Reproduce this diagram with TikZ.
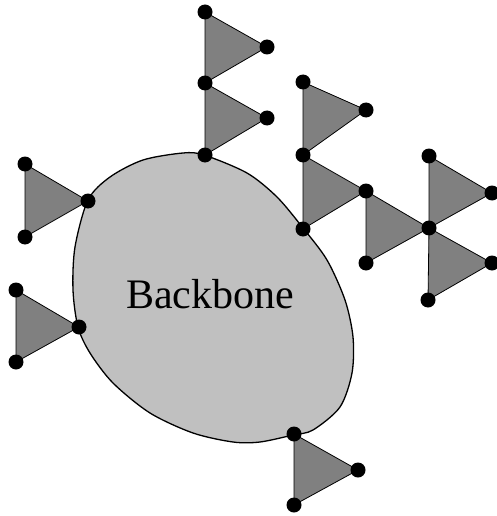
\documentclass[tikz,border=0pt]{standalone}
\usepackage{fontspec}
\setmainfont{Liberation Serif}
\begin{document}
\begin{tikzpicture}[x=1pt,y=-1pt,
  blob/.style={fill={rgb,255:red,192;green,192;blue,192},draw=black,line width=1.3pt},
  tri/.style={fill={rgb,255:red,128;green,128;blue,128},draw=black,line width=0.8pt,line join=round},
  vtx/.style={circle,fill=black,inner sep=0pt,minimum size=15pt}]
\useasboundingbox (0,0) rectangle (496,516);
% backbone
\draw[blob] plot[smooth cycle,tension=0.5] coordinates {(183,153) (204,155) (247,173) (277,197) (303,228) (327,260) (345,300) (353,337) (352,373) (340,407) (313,430) (293,435) (260,442) (233,442) (193,433) (150,413) (113,383) (90,353) (78,327) (73,290) (75,247) (88,200) (110,177) (143,160)};
\node[font=\fontsize{42}{50}\selectfont] (bb) at (210,294) {Backbone};
% vertices
\coordinate (a1) at (205,12);  \coordinate (a2) at (267,47);
\coordinate (a3) at (205,83);  \coordinate (a4) at (267,118);
\coordinate (a5) at (205,155);
\coordinate (b1) at (303,82);  \coordinate (b2) at (366,110);
\coordinate (b3) at (303,155); \coordinate (b4) at (366,191);
\coordinate (b5) at (303,229);
\coordinate (c1) at (366,263); \coordinate (c2) at (429,228);
\coordinate (d1) at (429,156); \coordinate (d2) at (492,193);
\coordinate (d3) at (492,263); \coordinate (d4) at (428,300);
\coordinate (l1) at (25,164);  \coordinate (l2) at (88,201);  \coordinate (l3) at (25,237);
\coordinate (m1) at (16,290);  \coordinate (m2) at (79,327);  \coordinate (m3) at (16,362);
\coordinate (n1) at (294,434); \coordinate (n2) at (358,470); \coordinate (n3) at (294,505);
% triangles
\draw[tri] (a1) -- (a2) -- (a3) -- cycle;
\draw[tri] (a3) -- (a4) -- (a5) -- cycle;
\draw[tri] (b1) -- (b2) -- (b3) -- cycle;
\draw[tri] (b3) -- (b4) -- (b5) -- cycle;
\draw[tri] (b4) -- (c2) -- (c1) -- cycle;
\draw[tri] (d1) -- (d2) -- (c2) -- cycle;
\draw[tri] (c2) -- (d3) -- (d4) -- cycle;
\draw[tri] (l1) -- (l2) -- (l3) -- cycle;
\draw[tri] (m1) -- (m2) -- (m3) -- cycle;
\draw[tri] (n1) -- (n2) -- (n3) -- cycle;
% dots
\foreach \p in {a1,a2,a3,a4,a5,b1,b2,b3,b4,b5,c1,c2,d1,d2,d3,d4,l1,l2,l3,m1,m2,m3,n1,n2,n3}
  \node[vtx] (dot-\p) at (\p) {};
\end{tikzpicture}
\end{document}
